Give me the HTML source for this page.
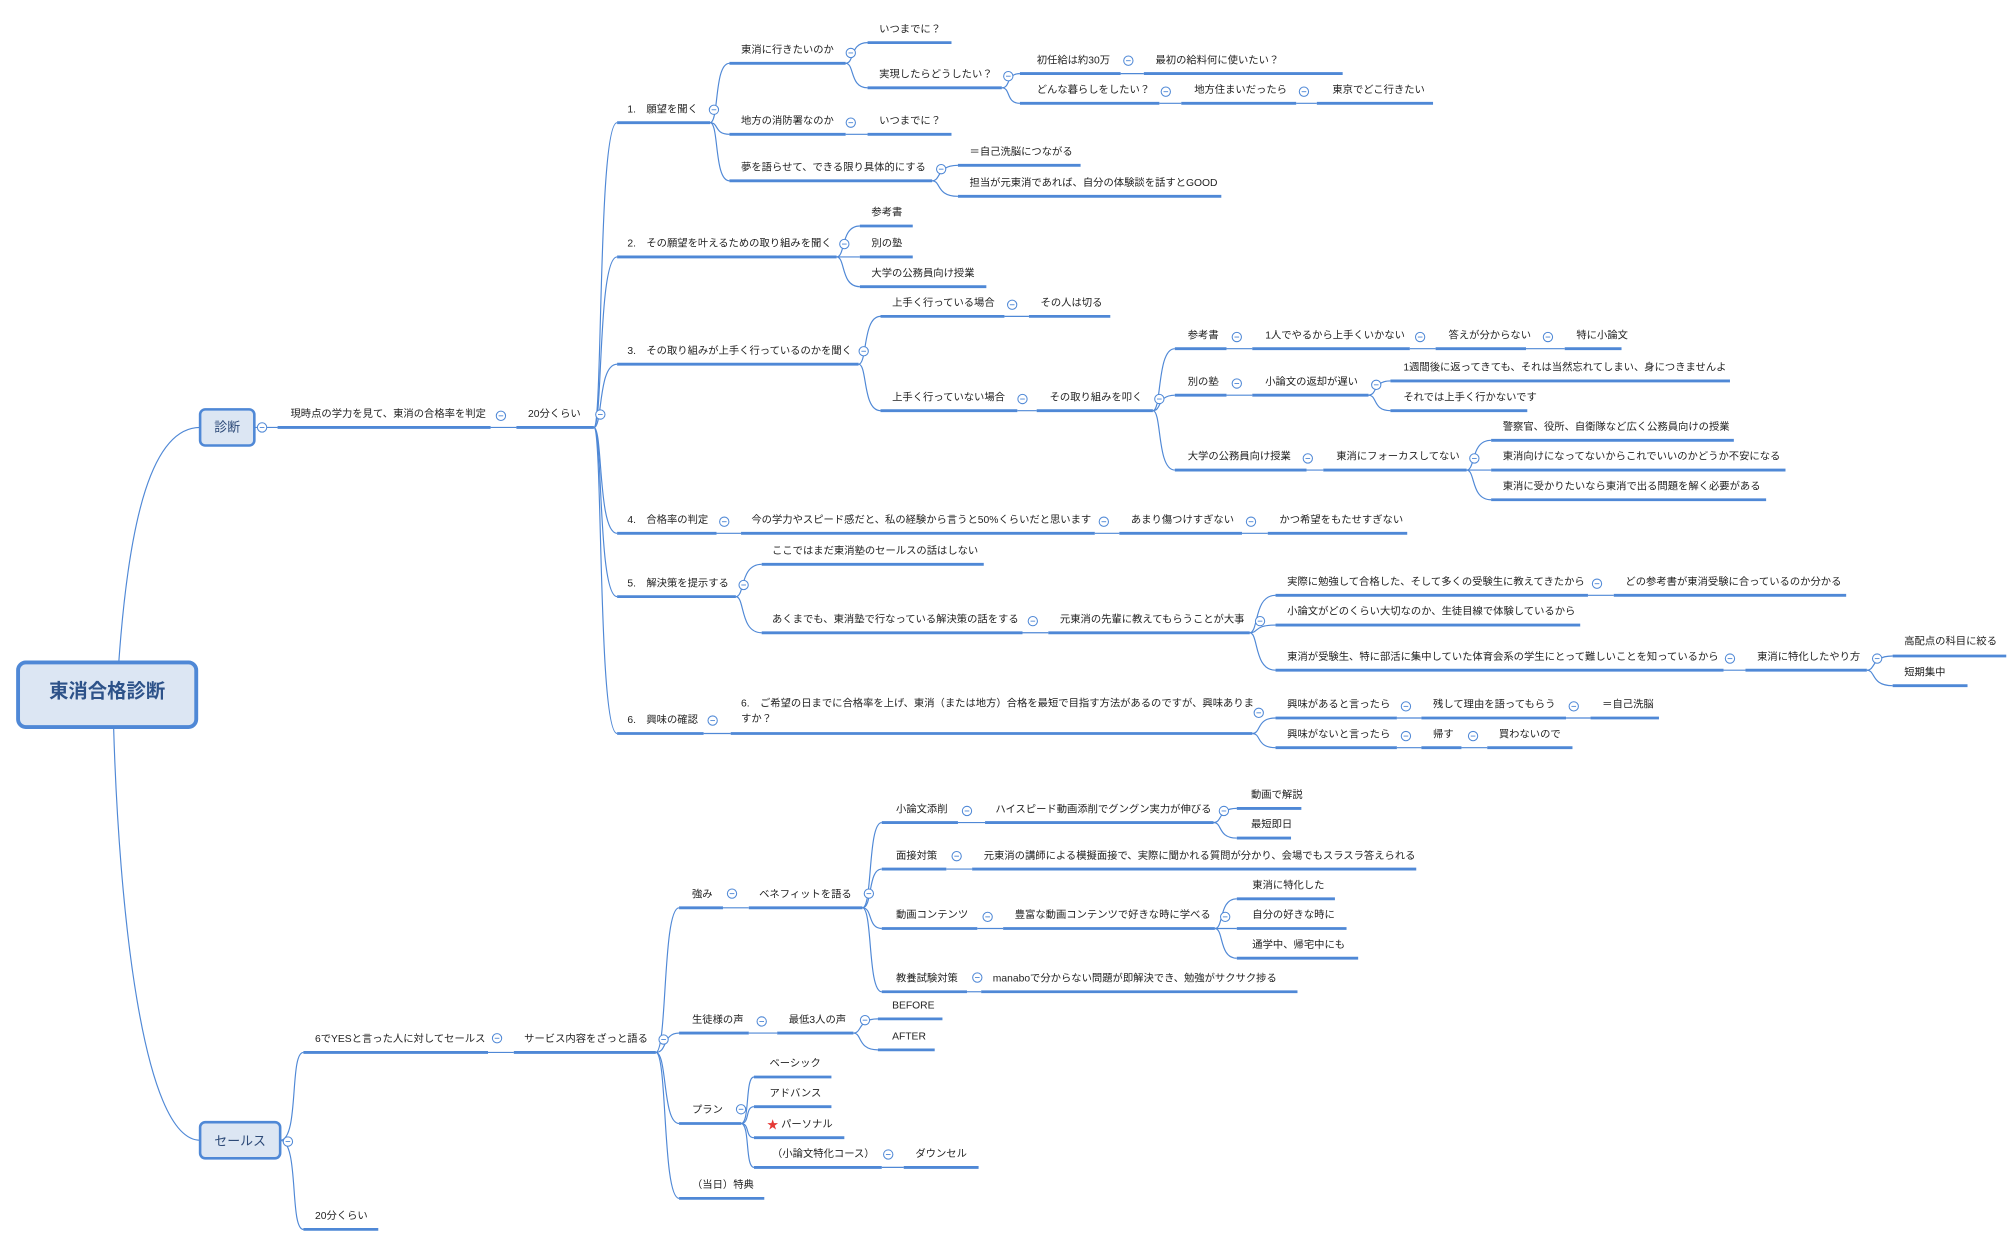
<!DOCTYPE html>
<html><head><meta charset="utf-8"><style>
html,body{margin:0;padding:0;background:#fff;width:2014px;height:1241px;overflow:hidden}
svg text{font-family:"Liberation Sans","Noto Sans CJK JP",sans-serif;font-size:8px;fill:#222}
.u{stroke:#4f88d6;stroke-width:2.2;fill:none}
.c{stroke:#4f88d6;stroke-width:0.9;fill:none}
</style></head><body>
<svg xmlns="http://www.w3.org/2000/svg" width="2014" height="1241" viewBox="0 0 1560 961" preserveAspectRatio="none">
<defs><g id="m"><circle cx="0" cy="0" r="3.6" fill="#fff" stroke="#4f88d6" stroke-width="0.8"/><line x1="-1.8" y1="0" x2="1.8" y2="0" stroke="#4f88d6" stroke-width="0.7"/></g></defs>

<!-- root -->
<path class="c" d="M92 513 C100 400 118 331 155 331"/>
<path class="c" d="M88 563 C92 700 110 883 155 883"/>
<rect x="14" y="513" width="138" height="50" rx="6" fill="#dce6f3" stroke="#4f88d6" stroke-width="3"/>
<text x="83" y="540" text-anchor="middle" style="font-size:15px;font-weight:bold;fill:#2d5289">東消合格診断</text>
<rect x="155" y="317" width="42" height="28" rx="4" fill="#dce6f3" stroke="#4f88d6" stroke-width="2"/>
<text x="176" y="334" text-anchor="middle" style="font-size:10px;fill:#2d4a78">診断</text>
<rect x="155" y="869" width="62" height="28" rx="4" fill="#dce6f3" stroke="#4f88d6" stroke-width="2"/>
<text x="186" y="887" text-anchor="middle" style="font-size:10px;fill:#2d4a78">セールス</text>

<!-- connectors -->
<g class="c">
<path d="M197 331 H215"/><path d="M380 331 H400"/>
<path d="M460 331 C467 331 463 95 478 95"/>
<path d="M460 331 C467 331 463 199 478 199"/>
<path d="M460 331 C467 331 463 282 478 282"/>
<path d="M460 331 C467 331 463 413 478 413"/>
<path d="M460 331 C467 331 463 462 478 462"/>
<path d="M460 331 C467 331 463 568 478 568"/>
<path d="M550 95 C557 95 553 49 565 49"/><path d="M550 95 C557 95 553 104 565 104"/><path d="M550 95 C557 95 553 140 565 140"/>
<path d="M655 49 C662 49 658 33 672 33"/><path d="M655 49 C662 49 658 68 672 68"/>
<path d="M776 68 C783 68 779 57 790 57"/><path d="M776 68 C783 68 779 80 790 80"/>
<path d="M868 57 H886"/><path d="M898 80 H915"/><path d="M1004 80 H1020"/>
<path d="M655 104 H672"/>
<path d="M722 140 C729 140 725 128 742 128"/><path d="M722 140 C729 140 725 152 742 152"/>
<path d="M648 199 C655 199 651 175 666 175"/><path d="M648 199 H666"/><path d="M648 199 C655 199 651 222 666 222"/>
<path d="M665 282 C672 282 668 245 682 245"/><path d="M665 282 C672 282 668 318 682 318"/>
<path d="M778 245 H797"/><path d="M788 318 H803"/>
<path d="M893 318 C900 318 896 270 910 270"/><path d="M893 318 C900 318 896 306 910 306"/><path d="M893 318 C900 318 896 364 910 364"/>
<path d="M950 270 H970"/><path d="M1092 270 H1112"/><path d="M1182 270 H1212"/>
<path d="M950 306 H970"/>
<path d="M1060 306 C1067 306 1063 295 1077 295"/><path d="M1060 306 C1067 306 1063 318 1077 318"/>
<path d="M1012 364 H1025"/>
<path d="M1136 364 C1143 364 1139 341 1155 341"/><path d="M1136 364 H1155"/><path d="M1136 364 C1143 364 1139 387 1155 387"/>
<path d="M555 413 H574"/><path d="M848 413 H867"/><path d="M962 413 H982"/>
<path d="M570 462 C577 462 573 437 590 437"/><path d="M570 462 C577 462 573 490 590 490"/>
<path d="M792 490 H812"/>
<path d="M968 490 C975 490 971 461 988 461"/><path d="M968 490 C975 490 971 484 988 484"/><path d="M968 490 C975 490 971 519 988 519"/>
<path d="M1230 461 H1250"/><path d="M1335 519 H1352"/>
<path d="M1446 519 C1453 519 1449 508 1466 508"/><path d="M1446 519 C1453 519 1449 531 1466 531"/>
<path d="M545 568 H566"/>
<path d="M970 568 C977 568 973 556 988 556"/><path d="M970 568 C977 568 973 579 988 579"/>
<path d="M1082 556 H1101"/><path d="M1213 556 H1232"/>
<path d="M1082 579 H1101"/><path d="M1132 579 H1152"/>
<!-- sales -->
<path d="M217 883 C232 883 224 815 235 815"/><path d="M217 883 C232 883 224 952 235 952"/>
<path d="M378 815 H398"/>
<path d="M508 815 C517 815 513 703 526 703"/><path d="M508 815 C517 815 513 800 526 800"/><path d="M508 815 C517 815 513 870 526 870"/><path d="M508 815 C517 815 513 928 526 928"/>
<path d="M560 703 H580"/>
<path d="M668 703 C676 703 672 637 683 637"/><path d="M668 703 C676 703 672 673 683 673"/><path d="M668 703 C676 703 672 719 683 719"/><path d="M668 703 C676 703 672 768 683 768"/>
<path d="M742 637 H763"/><path d="M733 673 H753"/><path d="M757 719 H777"/><path d="M749 768 H760"/>
<path d="M940 637 C947 637 943 626 958 626"/><path d="M940 637 C947 637 943 649 958 649"/>
<path d="M941 719 C948 719 944 696 958 696"/><path d="M941 719 H958"/><path d="M941 719 C948 719 944 742 958 742"/>
<path d="M580 800 H602"/>
<path d="M661 800 C668 800 664 789 680 789"/><path d="M661 800 C668 800 664 813 680 813"/>
<path d="M574 870 C581 870 577 834 584 834"/><path d="M574 870 C581 870 577 857 584 857"/><path d="M574 870 C581 870 577 881 584 881"/><path d="M574 870 C581 870 577 904 584 904"/>
<path d="M683 904 H700"/>
</g>

<!-- underlines -->
<g class="u">
<path d="M215 331H380M400 331H460M478 95H550M478 199H648M478 282H665M478 413H555M478 462H570M478 568H545"/>
<path d="M565 49H655M565 104H655M565 140H722M672 33H737M672 68H776M790 57H868M886 57H1040M790 80H898M915 80H1004M1020 80H1110M672 104H737M742 128H837M742 152H946"/>
<path d="M666 175H707M666 199H707M666 222H764"/>
<path d="M682 245H778M797 245H860M682 318H788M803 318H893M910 270H950M970 270H1092M1112 270H1182M1212 270H1256M910 306H950M970 306H1060M1077 295H1340M1077 318H1183M910 364H1012M1025 364H1136M1155 341H1343M1155 364H1383M1155 387H1368"/>
<path d="M574 413H848M867 413H962M982 413H1090"/>
<path d="M590 437H762M590 490H792M812 490H968M988 461H1230M1250 461H1430M988 484H1224M988 519H1335M1352 519H1446M1466 508H1554M1466 531H1524"/>
<path d="M566 568H970M988 556H1082M1101 556H1213M1232 556H1285M988 579H1082M1101 579H1132M1152 579H1218"/>
<path d="M235 815H378M398 815H508M526 703H560M580 703H668M683 637H742M763 637H940M958 626H1008M958 649H1000M683 673H733M753 673H1097M683 719H757M777 719H941M958 696H1034M958 719H1043M958 742H1052M683 768H749M760 768H1005"/>
<path d="M526 800H580M602 800H661M680 789H730M680 813H724M526 870H574M584 834H644M584 857H644M584 881H654M584 904H683M700 904H758M526 928H592M235 952H293"/>
</g>

<!-- collapse markers -->
<use href="#m" x="203" y="331"/><use href="#m" x="388" y="322"/><use href="#m" x="465" y="321"/>
<use href="#m" x="553" y="85"/><use href="#m" x="654" y="189"/><use href="#m" x="669" y="272"/><use href="#m" x="561" y="404"/><use href="#m" x="576" y="453"/><use href="#m" x="552" y="558"/>
<use href="#m" x="659" y="41"/><use href="#m" x="781" y="59"/><use href="#m" x="874" y="47"/><use href="#m" x="903" y="71"/><use href="#m" x="1010" y="71"/><use href="#m" x="659" y="95"/><use href="#m" x="729" y="131"/>
<use href="#m" x="784" y="236"/><use href="#m" x="792" y="309"/><use href="#m" x="898" y="309"/><use href="#m" x="958" y="261"/><use href="#m" x="1100" y="261"/><use href="#m" x="1199" y="261"/><use href="#m" x="958" y="297"/><use href="#m" x="1066" y="298"/><use href="#m" x="1013" y="355"/><use href="#m" x="1142" y="355"/>
<use href="#m" x="855" y="404"/><use href="#m" x="969" y="404"/><use href="#m" x="800" y="481"/><use href="#m" x="976" y="481"/><use href="#m" x="1237" y="452"/><use href="#m" x="1340" y="510"/><use href="#m" x="1454" y="510"/>
<use href="#m" x="975" y="552"/><use href="#m" x="1089" y="547"/><use href="#m" x="1219" y="547"/><use href="#m" x="1089" y="570"/><use href="#m" x="1141" y="570"/>
<use href="#m" x="223" y="884"/><use href="#m" x="385" y="804"/><use href="#m" x="514" y="805"/><use href="#m" x="567" y="692"/><use href="#m" x="673" y="692"/>
<use href="#m" x="749" y="628"/><use href="#m" x="948" y="628"/><use href="#m" x="741" y="663"/><use href="#m" x="765" y="710"/><use href="#m" x="949" y="710"/><use href="#m" x="757" y="757"/>
<use href="#m" x="590" y="791"/><use href="#m" x="670" y="790"/><use href="#m" x="574" y="859"/><use href="#m" x="688" y="894"/>

<!-- texts -->
<text x="225" y="323">現時点の学力を見て、東消の合格率を判定</text>
<text x="409" y="323">20分くらい</text>
<text x="486" y="87">1.　願望を聞く</text>
<text x="486" y="191">2.　その願望を叶えるための取り組みを聞く</text>
<text x="486" y="274">3.　その取り組みが上手く行っているのかを聞く</text>
<text x="486" y="405">4.　合格率の判定</text>
<text x="486" y="454">5.　解決策を提示する</text>
<text x="486" y="560">6.　興味の確認</text>
<text x="574" y="41">東消に行きたいのか</text>
<text x="574" y="96">地方の消防署なのか</text>
<text x="574" y="132">夢を語らせて、できる限り具体的にする</text>
<text x="681" y="25">いつまでに？</text>
<text x="681" y="60">実現したらどうしたい？</text>
<text x="803" y="49">初任給は約30万</text>
<text x="895" y="49">最初の給料何に使いたい？</text>
<text x="803" y="72">どんな暮らしをしたい？</text>
<text x="925" y="72">地方住まいだったら</text>
<text x="1032" y="72">東京でどこ行きたい</text>
<text x="681" y="96">いつまでに？</text>
<text x="751" y="120">＝自己洗脳につながる</text>
<text x="751" y="144">担当が元東消であれば、自分の体験談を話すとGOOD</text>
<text x="675" y="167">参考書</text>
<text x="675" y="191">別の塾</text>
<text x="675" y="214">大学の公務員向け授業</text>
<text x="691" y="237">上手く行っている場合</text>
<text x="806" y="237">その人は切る</text>
<text x="691" y="310">上手く行っていない場合</text>
<text x="813" y="310">その取り組みを叩く</text>
<text x="920" y="262">参考書</text>
<text x="980" y="262">1人でやるから上手くいかない</text>
<text x="1122" y="262">答えが分からない</text>
<text x="1221" y="262">特に小論文</text>
<text x="920" y="298">別の塾</text>
<text x="980" y="298">小論文の返却が遅い</text>
<text x="1087" y="287">1週間後に返ってきても、それは当然忘れてしまい、身につきませんよ</text>
<text x="1087" y="310">それでは上手く行かないです</text>
<text x="920" y="356">大学の公務員向け授業</text>
<text x="1035" y="356">東消にフォーカスしてない</text>
<text x="1164" y="333">警察官、役所、自衛隊など広く公務員向けの授業</text>
<text x="1164" y="356">東消向けになってないからこれでいいのかどうか不安になる</text>
<text x="1164" y="379">東消に受かりたいなら東消で出る問題を解く必要がある</text>
<text x="582" y="405">今の学力やスピード感だと、私の経験から言うと50%くらいだと思います</text>
<text x="876" y="405">あまり傷つけすぎない</text>
<text x="991" y="405">かつ希望をもたせすぎない</text>
<text x="598" y="429">ここではまだ東消塾のセールスの話はしない</text>
<text x="598" y="482">あくまでも、東消塾で行なっている解決策の話をする</text>
<text x="821" y="482">元東消の先輩に教えてもらうことが大事</text>
<text x="997" y="453">実際に勉強して合格した、そして多くの受験生に教えてきたから</text>
<text x="1259" y="453">どの参考書が東消受験に合っているのか分かる</text>
<text x="997" y="476">小論文がどのくらい大切なのか、生徒目線で体験しているから</text>
<text x="997" y="511">東消が受験生、特に部活に集中していた体育会系の学生にとって難しいことを知っているから</text>
<text x="1361" y="511">東消に特化したやり方</text>
<text x="1475" y="499">高配点の科目に絞る</text>
<text x="1475" y="523">短期集中</text>
<text x="574" y="547">6.　ご希望の日までに合格率を上げ、東消（または地方）合格を最短で目指す方法があるのですが、興味ありま</text>
<text x="574" y="559">すか？</text>
<text x="997" y="548">興味があると言ったら</text>
<text x="1110" y="548">残して理由を語ってもらう</text>
<text x="1241" y="548">＝自己洗脳</text>
<text x="997" y="571">興味がないと言ったら</text>
<text x="1110" y="571">帰す</text>
<text x="1161" y="571">買わないので</text>

<text x="244" y="807">6でYESと言った人に対してセールス</text>
<text x="406" y="807">サービス内容をざっと語る</text>
<text x="536" y="695">強み</text>
<text x="588" y="695">ベネフィットを語る</text>
<text x="694" y="629">小論文添削</text>
<text x="771" y="629">ハイスピード動画添削でグングン実力が伸びる</text>
<text x="969" y="618">動画で解説</text>
<text x="969" y="641">最短即日</text>
<text x="694" y="665">面接対策</text>
<text x="762" y="665">元東消の講師による模擬面接で、実際に聞かれる質問が分かり、会場でもスラスラ答えられる</text>
<text x="694" y="711">動画コンテンツ</text>
<text x="786" y="711">豊富な動画コンテンツで好きな時に学べる</text>
<text x="970" y="688">東消に特化した</text>
<text x="970" y="711">自分の好きな時に</text>
<text x="970" y="734">通学中、帰宅中にも</text>
<text x="694" y="760">教養試験対策</text>
<text x="769" y="760">manaboで分からない問題が即解決でき、勉強がサクサク捗る</text>
<text x="536" y="792">生徒様の声</text>
<text x="611" y="792">最低3人の声</text>
<text x="691" y="781">BEFORE</text>
<text x="691" y="805">AFTER</text>
<text x="536" y="862">プラン</text>
<text x="596" y="826">ベーシック</text>
<text x="596" y="849">アドバンス</text>
<text x="594" y="874" style="fill:#e53935;font-size:9px">★</text>
<text x="605" y="873">パーソナル</text>
<text x="598" y="896">（小論文特化コース）</text>
<text x="709" y="896">ダウンセル</text>
<text x="536" y="920">（当日）特典</text>
<text x="244" y="944">20分くらい</text>
</svg>
</body></html>
